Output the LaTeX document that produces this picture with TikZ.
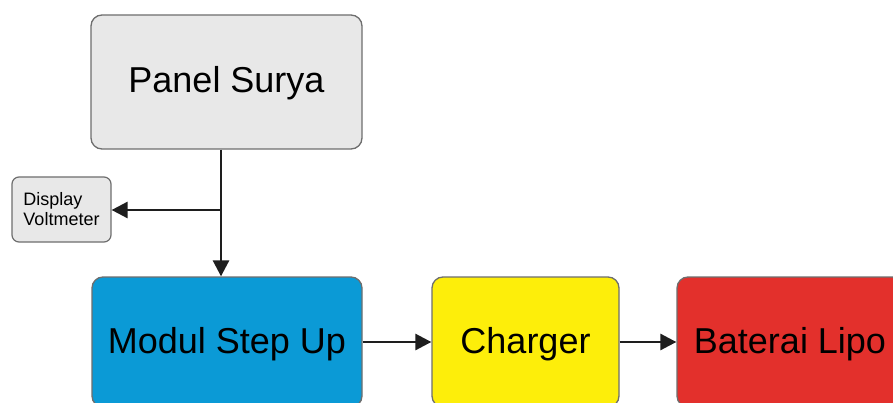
\documentclass[tikz,border=0pt]{standalone}
\usepackage{fontspec}
\setmainfont{Liberation Sans}
\usetikzlibrary{arrows.meta}
\definecolor{boxgray}{HTML}{E8E8E8}
\definecolor{edgegray}{HTML}{6E6E6E}
\definecolor{stepblue}{HTML}{0B9AD6}
\definecolor{chgyellow}{HTML}{FDEE0A}
\definecolor{batred}{HTML}{E3302C}
\definecolor{wire}{HTML}{1E1E1E}
\begin{document}
\begin{tikzpicture}[x=1pt,y=-1pt,
  block/.style={draw=edgegray, line width=1.3pt, rounded corners=11pt,
    inner sep=0pt, font=\fontsize{36}{40}\selectfont,
    text height=27pt, text depth=5pt},
  smallblock/.style={draw=edgegray, line width=1.2pt, rounded corners=7pt,
    fill=boxgray, inner sep=0pt, align=left,
    font=\fontsize{18}{20}\selectfont},
  flow/.style={draw=wire, line width=2.7pt,
    -{Triangle[length=16pt,width=16pt]}}]
\useasboundingbox (0,0) rectangle (893,403);
\clip (0,0) rectangle (893,403);
\fill[white] (0,0) rectangle (893,403);

% blocks
\node[block, fill=boxgray, minimum width=271pt, minimum height=134pt]
  (panel) at (226.5,82) {Panel Surya};
\node[smallblock, minimum width=99pt, minimum height=65pt]
  (volt) at (61.5,209.5) {Display\\Voltmeter};
\node[block, fill=stepblue, minimum width=270pt, minimum height=130pt]
  (modul) at (227,342) {Modul Step Up};
\node[block, fill=chgyellow, minimum width=187pt, minimum height=130pt]
  (charger) at (525.5,342) {Charger};
\node[block, fill=batred, minimum width=226pt, minimum height=130pt]
  (baterai) at (790,342) {Baterai Lipo};

% connectors
\coordinate (tap) at (221,210);
\draw[flow] (panel.south -| tap) -- (modul.north -| tap);
\draw[flow] (tap) -- (volt.east |- tap);
\draw[flow] (modul.east) -- (charger.west);
\draw[flow] (charger.east) -- (baterai.west);
\end{tikzpicture}
\end{document}
